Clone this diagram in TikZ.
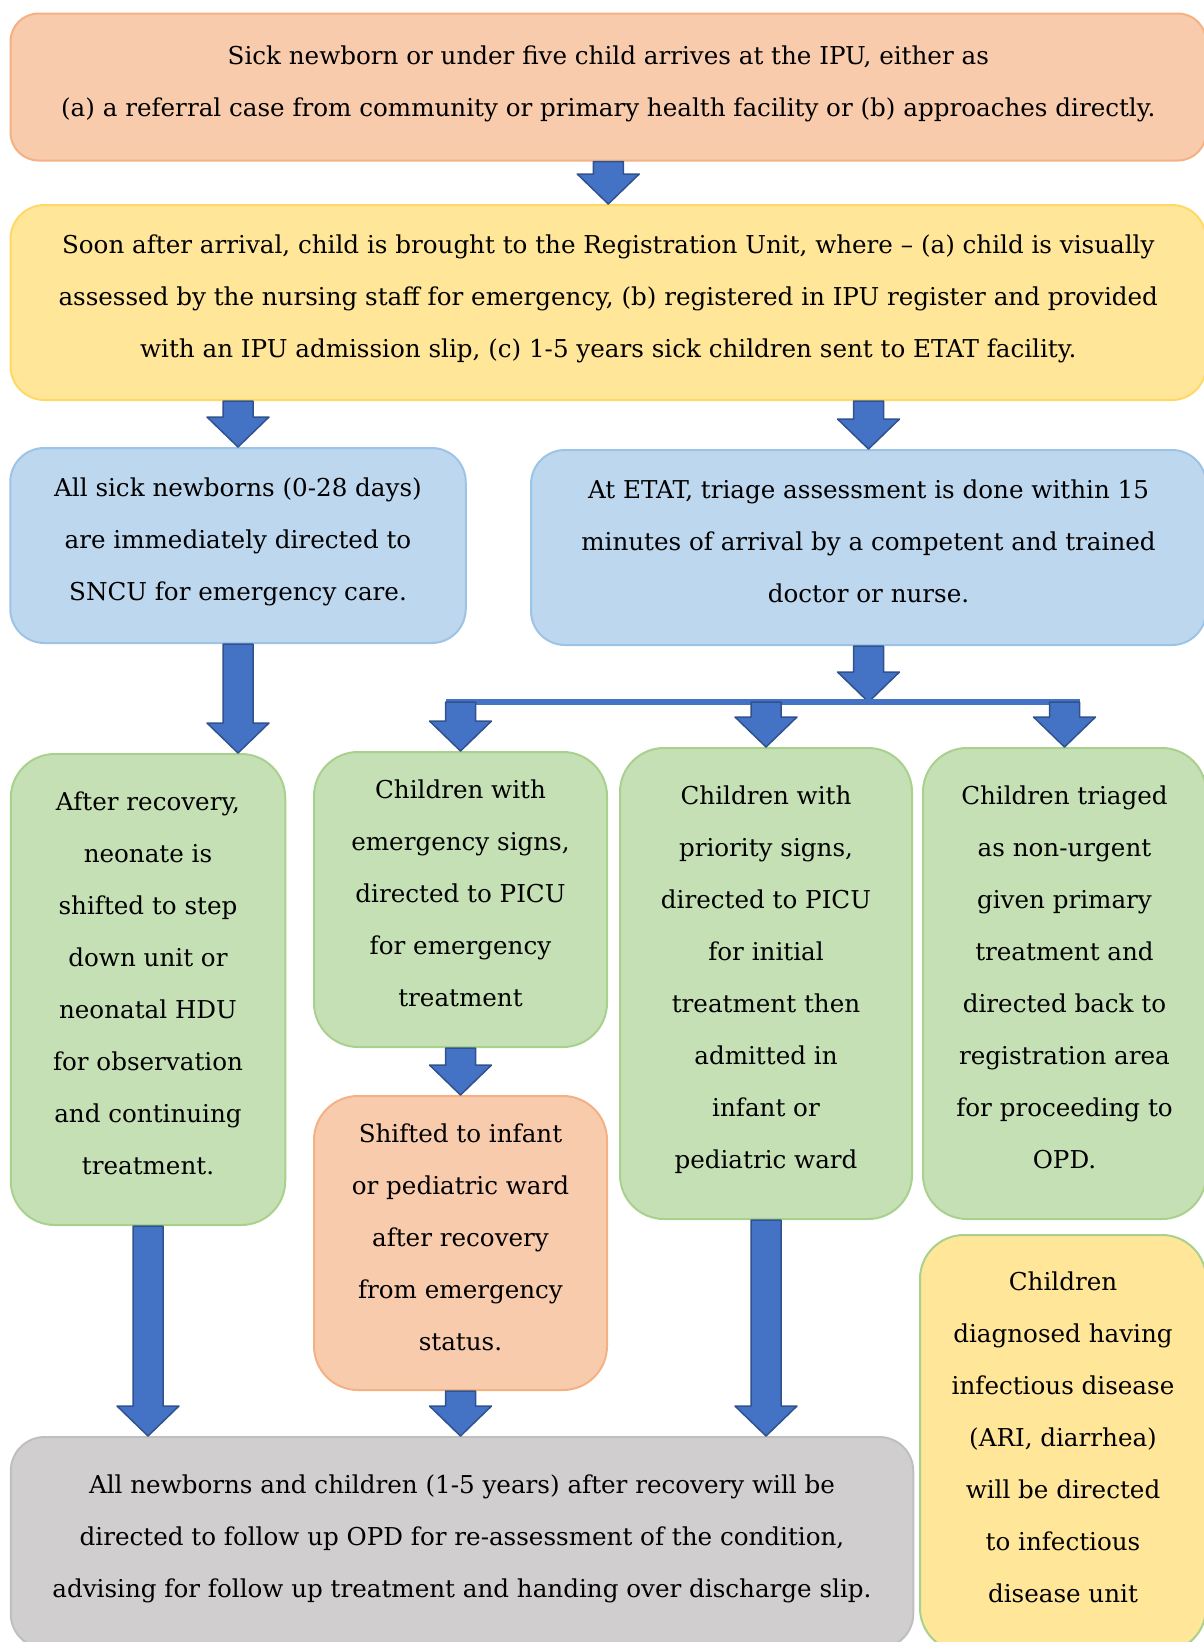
\documentclass[tikz,border=0pt]{standalone}
\usepackage{fontspec}
\setmainfont{DejaVu Serif}
\usetikzlibrary{calc}
\definecolor{peach}{HTML}{F8CBAD}   \definecolor{peachline}{HTML}{F4B183}
\definecolor{sand}{HTML}{FFE699}    \definecolor{sandline}{HTML}{FFD966}
\definecolor{sky}{HTML}{BDD7EE}     \definecolor{skyline}{HTML}{9DC3E6}
\definecolor{leaf}{HTML}{C5E0B4}    \definecolor{leafline}{HTML}{A9D18E}
\definecolor{ash}{HTML}{D0CECE}     \definecolor{ashline}{HTML}{BFBFBF}
\definecolor{flow}{HTML}{4472C4}    \definecolor{flowline}{HTML}{2F528F}
\begin{document}
\begin{tikzpicture}[x=1pt,y=-1pt, line join=round,
	box/.style={draw, line width=2pt, rounded corners=34pt, align=center, inner sep=0pt,
		font=\fontsize{24.6}{52}\selectfont, execute at end node={\rule[-12pt]{0pt}{12pt}}},
	peachbox/.style={box, fill=peach, draw=peachline},
	sandbox/.style={box, fill=sand, draw=sandline},
	skybox/.style={box, fill=sky, draw=skyline},
	leafbox/.style={box, fill=leaf, draw=leafline, rounded corners=44pt},
	ashbox/.style={box, fill=ash, draw=ashline},
	blockarrow/.style={fill=flow, draw=flowline, line width=1.5pt, to path={
		let \p1=(\tikztostart), \p2=(\tikztotarget) in
		(\x1-15pt,\y1) -- (\x1+15pt,\y1) -- (\x1+15pt,\y2+30pt) -- (\x1+31pt,\y2+30pt)
		-- (\x1,\y2) -- (\x1-31pt,\y2+30pt) -- (\x1-15pt,\y2+30pt) -- cycle}},
	bar/.style={draw=flow, line width=6pt}]
	\def\W{1203} \def\H{1642} % page size
	\useasboundingbox (0,0) rectangle (\W,\H);
	% boxes
	\node[peachbox, rounded corners=28pt, minimum width=1195.5, minimum height=147] (arrive) at (608.25,87)
		{Sick newborn or under five child arrives at the IPU, either as\\
		 (a) a referral case from community or primary health facility or (b) approaches directly.};
	\node[sandbox, minimum width=1195.5, minimum height=195] (regunit) at (608.25,302.5)
		{Soon after arrival, child is brought to the Registration Unit, where – (a) child is visually\\
		 assessed by the nursing staff for emergency, (b) registered in IPU register and provided\\
		 with an IPU admission slip, (c) 1-5 years sick children sent to ETAT facility.};
	\node[skybox, minimum width=455.5, minimum height=195] (sncu) at (238,545.5)
		{All sick newborns (0-28 days)\\are immediately directed to\\SNCU for emergency care.};
	\node[skybox, minimum width=675, minimum height=195] (etat) at (868.5,547.5)
		{At ETAT, triage assessment is done within 15\\minutes of arrival by a competent and trained\\doctor or nurse.};
	\node[leafbox, minimum width=274.5, minimum height=471] (neonate) at (148,989.5)
		{After recovery,\\neonate is\\shifted to step\\down unit or\\neonatal HDU\\for observation\\and continuing\\treatment.};
	\node[leafbox, minimum width=293, minimum height=295] (emerg) at (460.5,899.5)
		{Children with\\emergency signs,\\directed to PICU\\for emergency\\treatment};
	\node[peachbox, rounded corners=44pt, minimum width=293, minimum height=294] (shifted) at (460.5,1243)
		{Shifted to infant\\or pediatric ward\\after recovery\\from emergency\\status.};
	\node[leafbox, minimum width=292, minimum height=471] (prio) at (766,983.5)
		{Children with\\priority signs,\\directed to PICU\\for initial\\treatment then\\admitted in\\infant or\\pediatric ward};
	\node[leafbox, minimum width=283, minimum height=471] (nonurg) at (1064.5,983.5)
		{Children triaged\\as non-urgent\\given primary\\treatment and\\directed back to\\registration area\\for proceeding to\\OPD.};
	\node[sandbox, draw=leafline, rounded corners=44pt, minimum width=286, minimum height=417] (infect) at (1063,1443.5)
		{Children\\diagnosed having\\infectious disease\\(ARI, diarrhea)\\will be directed\\to infectious\\disease unit};
	\node[ashbox, minimum width=902.5, minimum height=211] (followup) at (462,1542.5)
		{All newborns and children (1-5 years) after recovery will be\\
		 directed to follow up OPD for re-assessment of the condition,\\
		 advising for follow up treatment and handing over discharge slip.};
	% arrows
	\draw[blockarrow] (arrive.south) to (regunit.north);
	\draw[blockarrow] (sncu.north |- regunit.south) to (sncu.north);
	\draw[blockarrow] (etat.north |- regunit.south) to (etat.north);
	\coordinate (split) at (etat.south |- 0,702);
	\coordinate (barl) at ($(emerg.north |- split)+(-15,0)$);
	\coordinate (barr) at ($(nonurg.north |- split)+(15,0)$);
	\draw[blockarrow] (etat.south) to (split);
	\draw[bar] (barl) -- (barr);
	\foreach \bx in {emerg,prio,nonurg}
		\draw[blockarrow] (\bx.north |- split) to (\bx.north);
	\draw[blockarrow] (sncu.south) to (neonate.north);
	\draw[blockarrow] (emerg.south) to (shifted.north);
	\draw[blockarrow] (neonate.south) to (neonate.south |- followup.north);
	\draw[blockarrow] (shifted.south) to (shifted.south |- followup.north);
	\draw[blockarrow] (prio.south) to (prio.south |- followup.north);
\end{tikzpicture}
\end{document}
